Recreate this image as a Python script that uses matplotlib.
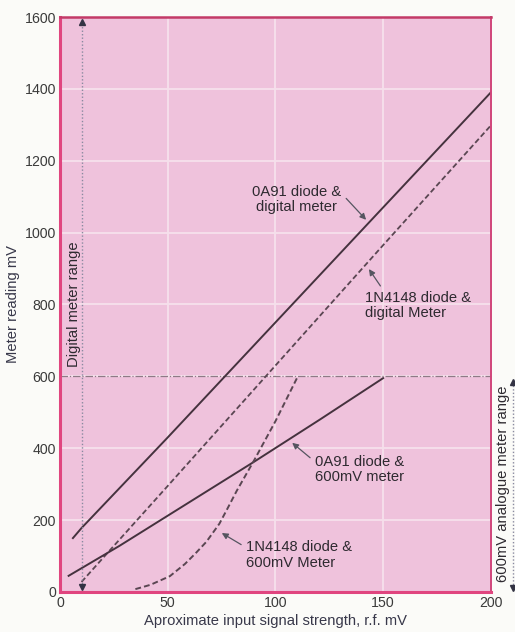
import matplotlib.pyplot as plt
from matplotlib.lines import Line2D

plt.rcParams['font.family'] = ['Liberation Sans', 'DejaVu Sans']

# data (x = input rf mV, y = meter reading mV)
oa91_dig_x = [6, 10, 50, 100, 150, 200]
oa91_dig_y = [150, 178, 430, 750, 1070, 1390]

n4148_dig_x = [10, 20, 50, 100, 150, 200]
n4148_dig_y = [28, 95, 295, 630, 965, 1298]

oa91_600_x = [4, 27.5, 90, 120.7, 150]
oa91_600_y = [45, 128, 362, 480, 595]

n4148_600_x = [35, 42, 51, 58, 63, 68, 74, 78, 82, 90, 100, 110]
n4148_600_y = [8, 20, 44, 78, 108, 140, 190, 235, 281, 365, 475, 595]

x_ticks = [0, 50, 100, 150, 200]
y_ticks = [0, 200, 400, 600, 800, 1000, 1200, 1400, 1600]

pink = '#EFC2DC'
ink = '#45323E'
txt = '#2E2A30'
fs = 10.6

fig = plt.figure(figsize=(5.15, 6.32), dpi=100, facecolor='#FBFBF8')
ax = fig.add_axes([0.1165, 0.0633, 0.8365, 0.9098])
ax.set_facecolor(pink)

ax.set_xlim(0, 200)
ax.set_ylim(0, 1600)
ax.set_xticks(x_ticks)
ax.set_yticks(y_ticks)
ax.grid(True, color='#F6E0EC', lw=1.3)
ax.set_axisbelow(True)
ax.tick_params(length=0, pad=3, labelsize=10.2, colors='#3A3A3A')

for side in ['left', 'bottom']:
    ax.spines[side].set_color('#E0457F')
    ax.spines[side].set_linewidth(2.2)
ax.spines['top'].set_color('#C33A68')
ax.spines['top'].set_linewidth(1.8)
ax.spines['right'].set_color('#D0457A')
ax.spines['right'].set_linewidth(1.4)

ax.set_xlabel('Aproximate input signal strength, r.f. mV', fontsize=fs, color='#38384A', labelpad=3)
ax.set_ylabel('Meter reading mV', fontsize=fs, color='#38384A', labelpad=3)

# 600 mV limit line
ax.axhline(600, color='#8E7A86', lw=0.9, ls=(0, (6, 1.5, 1, 1.5)))

# curves
ax.plot(oa91_dig_x, oa91_dig_y, color=ink, lw=1.4)
ax.plot(n4148_dig_x, n4148_dig_y, color='#5A4652', lw=1.3, ls=(0, (3, 1.6)))
ax.plot(oa91_600_x, oa91_600_y, color=ink, lw=1.4)
ax.plot(n4148_600_x, n4148_600_y, color='#5A4652', lw=1.4, ls=(0, (3, 1.6)))

# digital meter range marker
ax.plot([10, 10], [15, 1585], color='#8A8AA0', lw=1.0, ls=(0, (1, 1.5)))
ax.plot([10], [1585], marker='^', color='#333344', ms=5)
ax.plot([10], [15], marker='v', color='#333344', ms=5)
ax.text(6.3, 800, 'Digital meter range', rotation=90, ha='center', va='center',
        fontsize=fs, color=txt)

# analogue meter range marker (outside axes)
ax.add_line(Line2D([210.5, 210.5], [10, 580], color='#8A8AA0', lw=1.0,
                   ls=(0, (1, 1.5)), clip_on=False))
ax.plot([210.5], [585], marker='^', color='#333344', ms=5, clip_on=False)
ax.plot([210.5], [12], marker='v', color='#333344', ms=5, clip_on=False)
ax.text(205.5, 300, '600mV analogue meter range', rotation=90, ha='center', va='center',
        fontsize=fs, color=txt, clip_on=False)

arrow = dict(arrowstyle='-|>', color='#555560', lw=0.9, mutation_scale=9)

ax.annotate('0A91 diode &\ndigital meter', xy=(143, 1030), xytext=(110, 1093),
            ha='center', va='center', fontsize=fs, color=txt, linespacing=1.1,
            arrowprops=dict(arrow, relpos=(1.0, 0.7)))
ax.annotate('1N4148 diode &\ndigital Meter', xy=(142.7, 905), xytext=(141.5, 797),
            ha='left', va='center', fontsize=fs, color=txt, linespacing=1.1,
            arrowprops=dict(arrow, relpos=(0.18, 1.0)))
ax.annotate('0A91 diode &\n600mV meter', xy=(106.8, 420), xytext=(118.4, 342),
            ha='left', va='center', fontsize=fs, color=txt, linespacing=1.1,
            arrowprops=dict(arrow, relpos=(0.0, 0.75)))
ax.annotate('1N4148 diode &\n600mV Meter', xy=(74, 168), xytext=(86.5, 103),
            ha='left', va='center', fontsize=fs, color=txt, linespacing=1.1,
            arrowprops=dict(arrow, relpos=(0.0, 0.75)))

fig.savefig('out.png', dpi=100, facecolor=fig.get_facecolor())
